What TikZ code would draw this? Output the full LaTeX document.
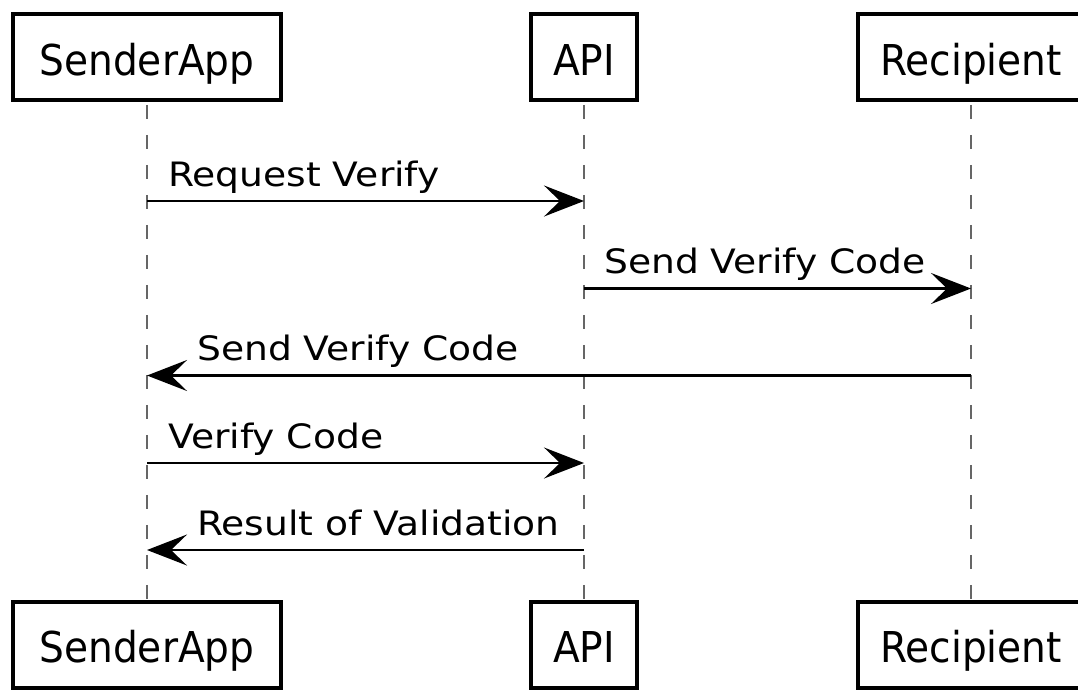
\documentclass[tikz,border=0pt]{standalone}
\usepackage{fontspec}
\setmainfont{DejaVu Sans}
\newfontfamily\actorfont[FakeStretch=0.92]{DejaVu Sans}
\newfontfamily\msgfont[FakeStretch=1.12]{DejaVu Sans}
\usetikzlibrary{arrows.meta}

\begin{document}
\begin{tikzpicture}[x=1pt,y=1pt,
  actor/.style={draw=black, line width=4pt, fill=white, inner sep=0pt,
    minimum height=85.5pt, text height=40pt, text depth=4pt,
    font=\actorfont\fontsize{42.5}{50}\selectfont},
  lifeline/.style={draw=black!60, line width=2.5pt,
    dash pattern=on 14pt off 16pt, dash phase=27pt},
  msg/.style={draw=black, line width=2.5pt,
    -{Stealth[length=40pt,width=31pt,inset=16pt]}},
  msglabel/.style={anchor=base west, inner sep=0pt,
    font=\msgfont\fontsize{33.6}{40}\selectfont},
]
\useasboundingbox (0,0) rectangle (1078,-689);
\clip (0,0) rectangle (1078,-689);

% participants, top row
\node[actor, minimum width=268pt] (sa) at (147,-57) {SenderApp};
\node[actor, minimum width=106pt] (api) at (584,-57) {API};
\node[actor, minimum width=226pt] (rc) at (971,-57) {Recipient};

% participants, bottom row
\node[actor, minimum width=268pt] (sab) at (147,-644.75) {SenderApp};
\node[actor, minimum width=106pt] (apib) at (584,-644.75) {API};
\node[actor, minimum width=226pt] (rcb) at (971,-644.75) {Recipient};

% lifelines
\draw[lifeline] (sa.south) -- (sab.north);
\draw[lifeline] (api.south) -- (apib.north);
\draw[lifeline] (rc.south) -- (rcb.north);

% message rows
\coordinate (r1) at (0,-201);
\coordinate (r2) at (0,-288.5);
\coordinate (r3) at (0,-375.5);
\coordinate (r4) at (0,-463);
\coordinate (r5) at (0,-550);

\coordinate (sa1) at (sa.south |- r1);
\coordinate (api1) at (api.south |- r1);
\coordinate (api2) at (api.south |- r2);
\coordinate (rc2) at (rc.south |- r2);
\coordinate (rc3) at (rc.south |- r3);
\coordinate (sa3) at (sa.south |- r3);
\coordinate (sa4) at (sa.south |- r4);
\coordinate (api4) at (api.south |- r4);
\coordinate (api5) at (api.south |- r5);
\coordinate (sa5) at (sa.south |- r5);

% messages
\draw[msg] (sa1) -- (api1);
\node[msglabel] (m1) at ([shift={(21,15)}]sa1) {Request Verify};

\draw[msg] (api2) -- (rc2);
\node[msglabel] (m2) at ([shift={(20,15)}]api2) {Send Verify Code};

\draw[msg] (rc3) -- (sa3);
\node[msglabel] (m3) at ([shift={(50,15)}]sa3) {Send Verify Code};

\draw[msg] (sa4) -- (api4);
\node[msglabel] (m4) at ([shift={(21,15)}]sa4) {Verify Code};

\draw[msg] (api5) -- (sa5);
\node[msglabel] (m5) at ([shift={(50,15)}]sa5) {Result of Validation};
\end{tikzpicture}
\end{document}
